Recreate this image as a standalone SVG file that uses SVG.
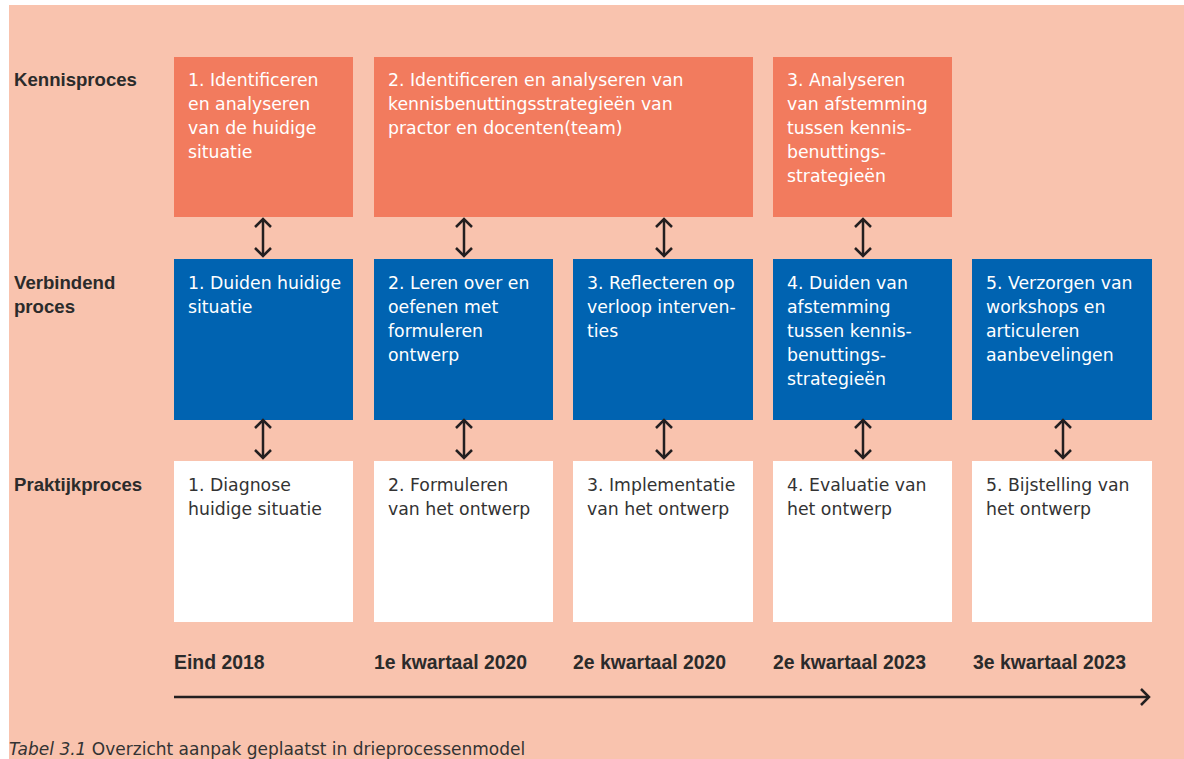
<svg xmlns="http://www.w3.org/2000/svg" width="1184" height="759" viewBox="0 0 1184 759">
<defs>
<marker id="chev" viewBox="0 0 20 20" refX="10" refY="10" markerWidth="20" markerHeight="20" markerUnits="userSpaceOnUse" orient="auto-start-reverse">
<path d="M2,2 L10,10 L2,18" fill="none" stroke="#231f20" stroke-width="2.5"/>
</marker>
<style>
.bg{fill:#f9c3ae}
.or{fill:#f27b5e}
.bl{fill:#0063b1}
.wh{fill:#ffffff}
.t{font-family:"DejaVu Sans","Liberation Sans",sans-serif;font-size:17.3px}
.tw{fill:#ffffff}
.td{fill:#333333}
.lab{font-family:"Liberation Sans",Arial,sans-serif;font-size:18.6px;font-weight:bold;fill:#2b2b2b}
.tlab{font-family:"Liberation Sans",Arial,sans-serif;font-size:19.4px;font-weight:bold;fill:#2b2b2b}
.conn{stroke:#231f20;stroke-width:2.5;fill:none;marker-start:url(#chev);marker-end:url(#chev)}
.tl{stroke:#231f20;stroke-width:2.5;fill:none;marker-end:url(#chev)}
</style>
</defs>
<rect x="0" y="0" width="1184" height="759" fill="#ffffff"/>
<rect class="bg" x="9" y="5" width="1175" height="754"/>

<g id="labels">
<text class="lab" x="14" y="86">Kennisproces</text>
<text class="lab" x="14" y="289">Verbindend</text>
<text class="lab" x="14" y="313">proces</text>
<text class="lab" x="14" y="491">Praktijkproces</text>
</g>

<g id="k1"><rect class="or" x="174" y="57" width="179" height="160"/>
<text class="t tw" x="188" y="86"><tspan x="188">1. Identificeren</tspan><tspan x="188" dy="24">en analyseren</tspan><tspan x="188" dy="24">van de huidige</tspan><tspan x="188" dy="24">situatie</tspan></text></g>
<g id="k2"><rect class="or" x="374" y="57" width="379" height="160"/>
<text class="t tw" x="388" y="86"><tspan x="388">2. Identificeren en analyseren van</tspan><tspan x="388" dy="24">kennisbenuttingsstrategieën van</tspan><tspan x="388" dy="24">practor en docenten(team)</tspan></text></g>
<g id="k3"><rect class="or" x="773" y="57" width="179" height="160"/>
<text class="t tw" x="787" y="86"><tspan x="787">3. Analyseren</tspan><tspan x="787" dy="24">van afstemming</tspan><tspan x="787" dy="24">tussen kennis-</tspan><tspan x="787" dy="24">benuttings-</tspan><tspan x="787" dy="24">strategieën</tspan></text></g>

<g id="v1"><rect class="bl" x="174" y="259" width="179" height="161"/>
<text class="t tw" x="188" y="289"><tspan x="188">1. Duiden huidige</tspan><tspan x="188" dy="24">situatie</tspan></text></g>
<g id="v2"><rect class="bl" x="374" y="259" width="179" height="161"/>
<text class="t tw" x="388" y="289"><tspan x="388">2. Leren over en</tspan><tspan x="388" dy="24">oefenen met</tspan><tspan x="388" dy="24">formuleren</tspan><tspan x="388" dy="24">ontwerp</tspan></text></g>
<g id="v3"><rect class="bl" x="573" y="259" width="180" height="161"/>
<text class="t tw" x="587" y="289"><tspan x="587">3. Reflecteren op</tspan><tspan x="587" dy="24">verloop interven-</tspan><tspan x="587" dy="24">ties</tspan></text></g>
<g id="v4"><rect class="bl" x="773" y="259" width="179" height="161"/>
<text class="t tw" x="787" y="289"><tspan x="787">4. Duiden van</tspan><tspan x="787" dy="24">afstemming</tspan><tspan x="787" dy="24">tussen kennis-</tspan><tspan x="787" dy="24">benuttings-</tspan><tspan x="787" dy="24">strategieën</tspan></text></g>
<g id="v5"><rect class="bl" x="972" y="259" width="180" height="161"/>
<text class="t tw" x="986" y="289"><tspan x="986">5. Verzorgen van</tspan><tspan x="986" dy="24">workshops en</tspan><tspan x="986" dy="24">articuleren</tspan><tspan x="986" dy="24">aanbevelingen</tspan></text></g>

<g id="p1"><rect class="wh" x="174" y="461" width="179" height="161"/>
<text class="t td" x="188" y="491"><tspan x="188">1. Diagnose</tspan><tspan x="188" dy="24">huidige situatie</tspan></text></g>
<g id="p2"><rect class="wh" x="374" y="461" width="179" height="161"/>
<text class="t td" x="388" y="491"><tspan x="388">2. Formuleren</tspan><tspan x="388" dy="24">van het ontwerp</tspan></text></g>
<g id="p3"><rect class="wh" x="573" y="461" width="180" height="161"/>
<text class="t td" x="587" y="491"><tspan x="587">3. Implementatie</tspan><tspan x="587" dy="24">van het ontwerp</tspan></text></g>
<g id="p4"><rect class="wh" x="773" y="461" width="179" height="161"/>
<text class="t td" x="787" y="491"><tspan x="787">4. Evaluatie van</tspan><tspan x="787" dy="24">het ontwerp</tspan></text></g>
<g id="p5"><rect class="wh" x="972" y="461" width="180" height="161"/>
<text class="t td" x="986" y="491"><tspan x="986">5. Bijstelling van</tspan><tspan x="986" dy="24">het ontwerp</tspan></text></g>

<g id="connectors">
<line class="conn" x1="263" y1="219" x2="263" y2="256"/>
<line class="conn" x1="464" y1="219" x2="464" y2="256"/>
<line class="conn" x1="664" y1="219" x2="664" y2="256"/>
<line class="conn" x1="863" y1="219" x2="863" y2="256"/>
<line class="conn" x1="263" y1="420" x2="263" y2="458"/>
<line class="conn" x1="464" y1="420" x2="464" y2="458"/>
<line class="conn" x1="664" y1="420" x2="664" y2="458"/>
<line class="conn" x1="863" y1="420" x2="863" y2="458"/>
<line class="conn" x1="1063" y1="420" x2="1063" y2="458"/>
<line class="tl" x1="174" y1="697" x2="1149" y2="697"/>
</g>

<g id="timeline">
<text class="tlab" x="174" y="669">Eind 2018</text>
<text class="tlab" x="374" y="669">1e kwartaal 2020</text>
<text class="tlab" x="573" y="669">2e kwartaal 2020</text>
<text class="tlab" x="773" y="669">2e kwartaal 2023</text>
<text class="tlab" x="973" y="669">3e kwartaal 2023</text>
</g>

<text class="t td" x="9" y="755" style="font-size:17px"><tspan font-style="italic">Tabel 3.1</tspan> Overzicht aanpak geplaatst in drieprocessenmodel</text>
</svg>
